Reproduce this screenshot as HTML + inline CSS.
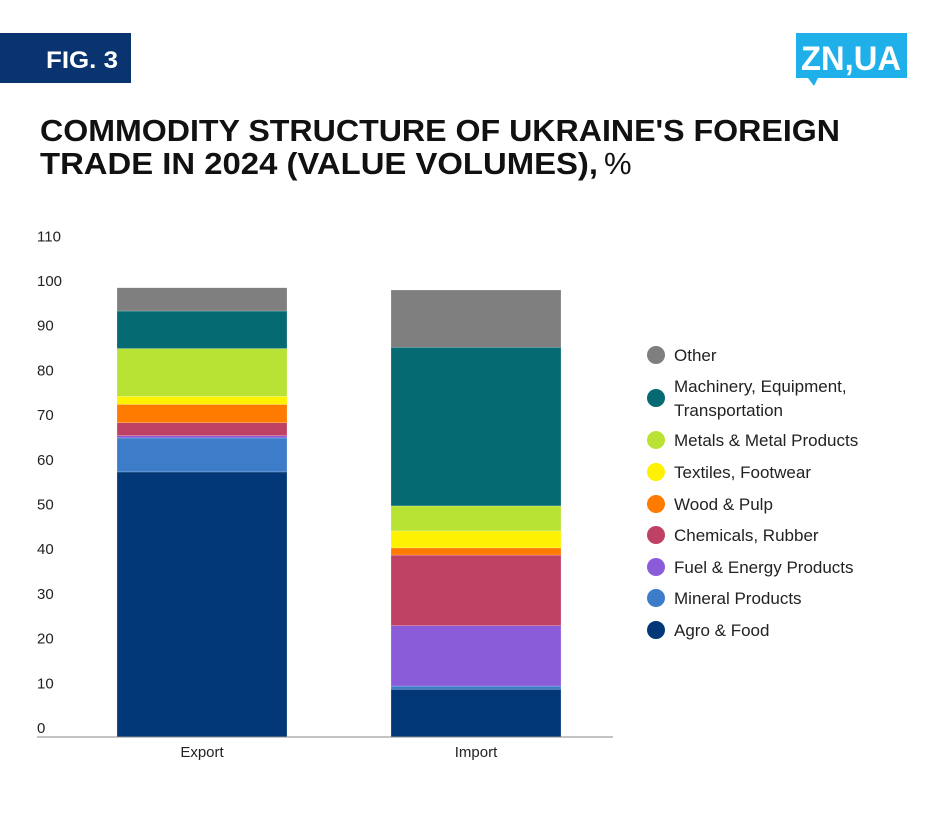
<!DOCTYPE html>
<html><head><meta charset="utf-8"><style>
body{margin:0;background:#fff;}
svg{display:block;font-family:"Liberation Sans",sans-serif;}
</style></head><body>
<svg id="chart" width="947" height="814" viewBox="0 0 947 814" xmlns="http://www.w3.org/2000/svg">
<rect x="0" y="33" width="131" height="50" fill="#0a3470"/>
<text x="46" y="68" font-size="24" font-weight="bold" fill="#fff" textLength="72" lengthAdjust="spacingAndGlyphs">FIG. 3</text>
<g>
<rect x="796" y="33" width="111" height="45" fill="#1fb0ea"/>
<polygon points="808,78 818,78 814,86" fill="#1fb0ea"/>
<text x="851" y="70" font-size="34" font-weight="bold" fill="#fff" text-anchor="middle" textLength="100" lengthAdjust="spacingAndGlyphs">ZN,UA</text>
</g>
<text x="40" y="141" font-size="31" font-weight="bold" fill="#111" textLength="800" lengthAdjust="spacingAndGlyphs">COMMODITY STRUCTURE OF UKRAINE'S FOREIGN</text>
<text x="40" y="174" font-size="31" fill="#111"><tspan font-weight="bold" textLength="558" lengthAdjust="spacingAndGlyphs">TRADE IN 2024 (VALUE VOLUMES),</tspan><tspan dx="6">%</tspan></text>
<g id="yaxis"></g><g id="bars"></g><g id="legend"></g>
<line x1="37" y1="737" x2="613" y2="737" stroke="#888" stroke-width="1"/>
</svg>
<script>
const categories = ["Export", "Import"];
const seriesNames = ["Agro & Food","Mineral Products","Fuel & Energy Products","Chemicals, Rubber","Wood & Pulp","Textiles, Footwear","Metals & Metal Products","Machinery, Equipment, Transportation","Other"];
const exportValues = [59.3, 7.6, 0.5, 2.9, 4.1, 1.8, 10.7, 8.4, 5.2];
const importValues = [10.7, 0.7, 13.5, 15.8, 1.6, 3.8, 5.6, 35.5, 12.8];
const yTicks = [0,10,20,30,40,50,60,70,80,90,100,110];
const colors = ["#023877","#3d7cc9","#8b5cd9","#bf4164","#ff7b00","#fff200","#b9e334","#056a72","#7f7f7f"];
const NS="http://www.w3.org/2000/svg";
const y0=737, unit=4.47;
function yScale(v){return y0-v*unit;}
const bandX=[117,391], barW=170;
function xScale(i){return bandX[0]+i*(bandX[1]-bandX[0]);}
function mk(tag,attrs,parent){const e=document.createElementNS(NS,tag);for(const k in attrs)e.setAttribute(k,attrs[k]);parent.appendChild(e);return e;}
const ya=document.getElementById('yaxis');
yTicks.forEach(t=>{const e=mk('text',{x:37,y:yScale(t)-4,'font-size':15,fill:'#222'},ya);


e.textContent=t;});
const bars=document.getElementById('bars');
[exportValues,importValues].forEach((vals,ci)=>{let acc=0;
vals.forEach((v,si)=>{const r=mk('rect',{x:xScale(ci),y:yScale(acc+v),width:barW,height:v*unit,fill:colors[si],stroke:'#fff','stroke-width':0.5,'stroke-opacity':0.4},bars);


acc+=v;});
const l=mk('text',{x:xScale(ci)+barW/2,y:757,'font-size':15,fill:'#222','text-anchor':'middle'},bars);


l.textContent=categories[ci];});
const lg=document.getElementById('legend');
const rows=[630,598,567,535,504,472,440,398,355];
seriesNames.forEach((n,i)=>{const g=mk('g',{},lg);


mk('circle',{cx:656,cy:rows[i],r:9,fill:colors[i]},g);
if(n.startsWith('Machinery')){
const t1=mk('text',{x:674,y:rows[i]-6,'font-size':17,fill:'#222'},g);t1.textContent='Machinery, Equipment,';
const t2=mk('text',{x:674,y:rows[i]+18,'font-size':17,fill:'#222'},g);t2.textContent='Transportation';
}else{const t=mk('text',{x:674,y:rows[i]+6,'font-size':17,fill:'#222'},g);t.textContent=n;}
});
</script>
</body></html>
